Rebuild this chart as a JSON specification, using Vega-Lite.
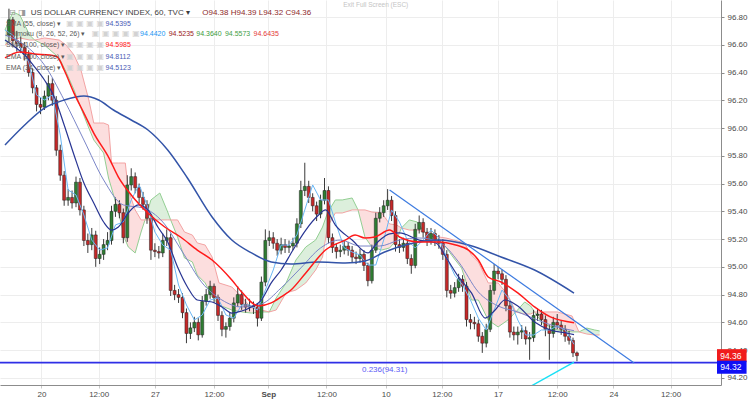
{
  "$schema": "https://vega.github.io/schema/vega-lite/v6.json",
  "width": 721,
  "height": 385,
  "autosize": {"type": "none"},
  "padding": {"left": 0, "top": 0, "right": 31, "bottom": 16},
  "background": "#ffffff",
  "config": {
    "view": {"stroke": null},
    "axis": {"labelFont": "Liberation Sans", "labelOverlap": false},
    "text": {"font": "Liberation Sans"}
  },
  "datasets": {
    "candles": [
      {"t":4,"o":96.67,"h":96.86,"l":96.62,"c":96.78},
      {"t":8,"o":96.78,"h":96.80,"l":96.58,"c":96.63},
      {"t":12,"o":96.63,"h":96.70,"l":96.55,"c":96.61},
      {"t":16,"o":96.61,"h":96.66,"l":96.54,"c":96.58},
      {"t":20,"o":96.58,"h":96.62,"l":96.49,"c":96.53},
      {"t":24,"o":96.53,"h":96.56,"l":96.37,"c":96.40},
      {"t":28,"o":96.40,"h":96.43,"l":96.25,"c":96.29},
      {"t":32,"o":96.29,"h":96.31,"l":96.12,"c":96.17},
      {"t":36,"o":96.17,"h":96.22,"l":96.10,"c":96.15},
      {"t":40,"o":96.15,"h":96.27,"l":96.13,"c":96.23},
      {"t":44,"o":96.23,"h":96.38,"l":96.20,"c":96.32},
      {"t":48,"o":96.32,"h":96.36,"l":96.16,"c":96.20},
      {"t":52,"o":96.20,"h":96.23,"l":95.80,"c":95.84},
      {"t":56,"o":95.84,"h":95.88,"l":95.62,"c":95.66},
      {"t":60,"o":95.66,"h":95.69,"l":95.44,"c":95.48},
      {"t":64,"o":95.48,"h":95.56,"l":95.44,"c":95.50},
      {"t":68,"o":95.50,"h":95.55,"l":95.42,"c":95.46},
      {"t":72,"o":95.46,"h":95.65,"l":95.43,"c":95.61},
      {"t":76,"o":95.61,"h":95.64,"l":95.37,"c":95.41},
      {"t":80,"o":95.41,"h":95.44,"l":95.15,"c":95.19},
      {"t":84,"o":95.19,"h":95.24,"l":95.10,"c":95.16},
      {"t":88,"o":95.16,"h":95.28,"l":95.12,"c":95.23},
      {"t":92,"o":95.23,"h":95.26,"l":95.00,"c":95.06},
      {"t":96,"o":95.06,"h":95.14,"l":95.02,"c":95.09},
      {"t":100,"o":95.09,"h":95.20,"l":95.05,"c":95.16},
      {"t":104,"o":95.16,"h":95.25,"l":95.12,"c":95.19},
      {"t":108,"o":95.19,"h":95.44,"l":95.16,"c":95.40},
      {"t":112,"o":95.40,"h":95.50,"l":95.36,"c":95.45},
      {"t":116,"o":95.45,"h":95.48,"l":95.35,"c":95.39},
      {"t":120,"o":95.39,"h":95.42,"l":95.17,"c":95.21},
      {"t":124,"o":95.21,"h":95.66,"l":95.18,"c":95.59},
      {"t":128,"o":95.59,"h":95.71,"l":95.55,"c":95.65},
      {"t":132,"o":95.65,"h":95.68,"l":95.53,"c":95.57},
      {"t":136,"o":95.57,"h":95.60,"l":95.46,"c":95.50},
      {"t":140,"o":95.50,"h":95.54,"l":95.41,"c":95.45},
      {"t":144,"o":95.45,"h":95.48,"l":95.31,"c":95.35},
      {"t":148,"o":95.35,"h":95.38,"l":95.05,"c":95.12},
      {"t":152,"o":95.12,"h":95.17,"l":95.07,"c":95.11},
      {"t":156,"o":95.11,"h":95.15,"l":95.06,"c":95.10},
      {"t":160,"o":95.10,"h":95.24,"l":95.07,"c":95.19},
      {"t":164,"o":95.19,"h":95.27,"l":95.15,"c":95.21},
      {"t":168,"o":95.21,"h":95.24,"l":94.79,"c":94.83},
      {"t":172,"o":94.83,"h":94.87,"l":94.76,"c":94.80},
      {"t":176,"o":94.80,"h":94.84,"l":94.74,"c":94.78},
      {"t":180,"o":94.78,"h":94.81,"l":94.63,"c":94.67},
      {"t":184,"o":94.67,"h":94.70,"l":94.45,"c":94.52},
      {"t":188,"o":94.52,"h":94.60,"l":94.48,"c":94.56},
      {"t":192,"o":94.56,"h":94.64,"l":94.53,"c":94.60},
      {"t":196,"o":94.60,"h":94.63,"l":94.47,"c":94.51},
      {"t":200,"o":94.51,"h":94.79,"l":94.49,"c":94.75},
      {"t":204,"o":94.75,"h":94.84,"l":94.72,"c":94.80},
      {"t":208,"o":94.80,"h":94.90,"l":94.77,"c":94.86},
      {"t":212,"o":94.86,"h":94.88,"l":94.74,"c":94.78},
      {"t":216,"o":94.78,"h":94.80,"l":94.61,"c":94.65},
      {"t":220,"o":94.65,"h":94.68,"l":94.50,"c":94.55},
      {"t":224,"o":94.55,"h":94.60,"l":94.49,"c":94.57},
      {"t":228,"o":94.57,"h":94.67,"l":94.54,"c":94.63},
      {"t":232,"o":94.63,"h":94.78,"l":94.60,"c":94.74},
      {"t":236,"o":94.74,"h":94.86,"l":94.71,"c":94.80},
      {"t":240,"o":94.80,"h":94.83,"l":94.69,"c":94.73},
      {"t":244,"o":94.73,"h":94.77,"l":94.67,"c":94.71},
      {"t":248,"o":94.71,"h":94.77,"l":94.68,"c":94.72},
      {"t":252,"o":94.72,"h":94.75,"l":94.66,"c":94.71},
      {"t":256,"o":94.71,"h":94.74,"l":94.57,"c":94.63},
      {"t":260,"o":94.63,"h":94.93,"l":94.61,"c":94.89},
      {"t":264,"o":94.89,"h":95.27,"l":94.86,"c":95.19},
      {"t":268,"o":95.19,"h":95.26,"l":95.15,"c":95.21},
      {"t":272,"o":95.21,"h":95.25,"l":95.13,"c":95.17},
      {"t":276,"o":95.17,"h":95.20,"l":95.08,"c":95.12},
      {"t":280,"o":95.12,"h":95.21,"l":95.09,"c":95.16},
      {"t":284,"o":95.16,"h":95.20,"l":95.10,"c":95.14},
      {"t":288,"o":95.14,"h":95.19,"l":95.10,"c":95.15},
      {"t":292,"o":95.15,"h":95.21,"l":95.12,"c":95.17},
      {"t":296,"o":95.17,"h":95.35,"l":95.14,"c":95.31},
      {"t":300,"o":95.31,"h":95.62,"l":95.28,"c":95.55},
      {"t":304,"o":95.55,"h":95.75,"l":95.51,"c":95.58},
      {"t":308,"o":95.58,"h":95.62,"l":95.46,"c":95.50},
      {"t":312,"o":95.50,"h":95.53,"l":95.40,"c":95.44},
      {"t":316,"o":95.44,"h":95.47,"l":95.33,"c":95.38},
      {"t":320,"o":95.38,"h":95.52,"l":95.35,"c":95.48},
      {"t":324,"o":95.48,"h":95.64,"l":95.45,"c":95.55},
      {"t":328,"o":95.55,"h":95.58,"l":95.17,"c":95.21},
      {"t":332,"o":95.21,"h":95.24,"l":95.10,"c":95.14},
      {"t":336,"o":95.14,"h":95.17,"l":95.06,"c":95.11},
      {"t":340,"o":95.11,"h":95.16,"l":95.07,"c":95.12},
      {"t":344,"o":95.12,"h":95.19,"l":95.09,"c":95.15},
      {"t":348,"o":95.15,"h":95.18,"l":95.08,"c":95.12},
      {"t":352,"o":95.12,"h":95.15,"l":95.03,"c":95.07},
      {"t":356,"o":95.07,"h":95.11,"l":95.02,"c":95.06},
      {"t":360,"o":95.06,"h":95.13,"l":95.03,"c":95.09},
      {"t":364,"o":95.09,"h":95.12,"l":94.97,"c":95.01},
      {"t":368,"o":95.01,"h":95.03,"l":94.86,"c":94.90},
      {"t":372,"o":94.90,"h":95.16,"l":94.88,"c":95.12},
      {"t":376,"o":95.12,"h":95.39,"l":95.10,"c":95.35},
      {"t":380,"o":95.35,"h":95.43,"l":95.32,"c":95.39},
      {"t":384,"o":95.39,"h":95.48,"l":95.36,"c":95.44},
      {"t":388,"o":95.44,"h":95.56,"l":95.41,"c":95.48},
      {"t":392,"o":95.48,"h":95.51,"l":95.33,"c":95.37},
      {"t":396,"o":95.37,"h":95.40,"l":95.11,"c":95.16},
      {"t":400,"o":95.16,"h":95.20,"l":95.10,"c":95.14},
      {"t":404,"o":95.14,"h":95.21,"l":95.11,"c":95.17},
      {"t":408,"o":95.17,"h":95.20,"l":95.02,"c":95.06},
      {"t":412,"o":95.06,"h":95.09,"l":94.95,"c":95.01},
      {"t":416,"o":95.01,"h":95.31,"l":94.99,"c":95.27},
      {"t":420,"o":95.27,"h":95.37,"l":95.24,"c":95.32},
      {"t":424,"o":95.32,"h":95.35,"l":95.21,"c":95.25},
      {"t":428,"o":95.25,"h":95.28,"l":95.15,"c":95.19},
      {"t":432,"o":95.19,"h":95.28,"l":95.16,"c":95.24},
      {"t":436,"o":95.24,"h":95.27,"l":95.15,"c":95.19},
      {"t":440,"o":95.19,"h":95.23,"l":95.13,"c":95.17},
      {"t":444,"o":95.17,"h":95.20,"l":95.05,"c":95.09},
      {"t":448,"o":95.09,"h":95.12,"l":94.78,"c":94.83},
      {"t":452,"o":94.83,"h":94.87,"l":94.77,"c":94.81},
      {"t":456,"o":94.81,"h":94.89,"l":94.78,"c":94.85},
      {"t":460,"o":94.85,"h":94.95,"l":94.82,"c":94.91},
      {"t":464,"o":94.91,"h":94.94,"l":94.82,"c":94.86},
      {"t":468,"o":94.86,"h":94.89,"l":94.57,"c":94.62},
      {"t":472,"o":94.62,"h":94.66,"l":94.55,"c":94.60},
      {"t":476,"o":94.60,"h":94.64,"l":94.55,"c":94.59},
      {"t":480,"o":94.59,"h":94.62,"l":94.46,"c":94.50},
      {"t":484,"o":94.50,"h":94.53,"l":94.38,"c":94.45},
      {"t":488,"o":94.45,"h":94.59,"l":94.42,"c":94.55},
      {"t":492,"o":94.55,"h":94.87,"l":94.53,"c":94.83},
      {"t":496,"o":94.83,"h":95.02,"l":94.80,"c":94.97},
      {"t":500,"o":94.97,"h":95.00,"l":94.91,"c":94.95},
      {"t":504,"o":94.95,"h":94.98,"l":94.87,"c":94.91},
      {"t":508,"o":94.91,"h":94.94,"l":94.68,"c":94.72},
      {"t":512,"o":94.72,"h":94.75,"l":94.49,"c":94.53},
      {"t":516,"o":94.53,"h":94.57,"l":94.47,"c":94.51},
      {"t":520,"o":94.51,"h":94.57,"l":94.44,"c":94.53},
      {"t":524,"o":94.53,"h":94.58,"l":94.48,"c":94.54},
      {"t":528,"o":94.54,"h":94.57,"l":94.44,"c":94.48},
      {"t":532,"o":94.48,"h":94.53,"l":94.33,"c":94.49},
      {"t":536,"o":94.49,"h":94.69,"l":94.46,"c":94.65},
      {"t":540,"o":94.65,"h":94.70,"l":94.61,"c":94.66},
      {"t":544,"o":94.66,"h":94.69,"l":94.58,"c":94.62},
      {"t":548,"o":94.62,"h":94.65,"l":94.50,"c":94.55},
      {"t":552,"o":94.55,"h":94.58,"l":94.33,"c":94.52},
      {"t":556,"o":94.52,"h":94.64,"l":94.49,"c":94.60},
      {"t":560,"o":94.60,"h":94.66,"l":94.55,"c":94.58},
      {"t":564,"o":94.58,"h":94.61,"l":94.51,"c":94.55},
      {"t":568,"o":94.55,"h":94.58,"l":94.46,"c":94.50},
      {"t":572,"o":94.50,"h":94.54,"l":94.44,"c":94.47},
      {"t":576,"o":94.47,"h":94.49,"l":94.35,"c":94.38},
      {"t":580,"o":94.38,"h":94.39,"l":94.32,"c":94.36}
    ],
    "ind": [
      {"s":"ema200","t":0,"p":95.878},{"s":"ema200","t":20,"p":96.022},{"s":"ema200","t":40,"p":96.144},{"s":"ema200","t":60,"p":96.202},{"s":"ema200","t":80,"p":96.231},{"s":"ema200","t":95,"p":96.202},{"s":"ema200","t":110,"p":96.130},{"s":"ema200","t":128,"p":96.058},{"s":"ema200","t":145,"p":95.986},{"s":"ema200","t":165,"p":95.842},{"s":"ema200","t":185,"p":95.640},{"s":"ema200","t":210,"p":95.359},{"s":"ema200","t":230,"p":95.193},{"s":"ema200","t":250,"p":95.100},{"s":"ema200","t":270,"p":95.035},{"s":"ema200","t":290,"p":95.020},{"s":"ema200","t":318,"p":95.035},{"s":"ema200","t":345,"p":95.028},{"s":"ema200","t":365,"p":95.042},{"s":"ema200","t":385,"p":95.107},{"s":"ema200","t":410,"p":95.165},{"s":"ema200","t":440,"p":95.193},{"s":"ema200","t":470,"p":95.157},{"s":"ema200","t":503,"p":95.071},{"s":"ema200","t":537,"p":94.977},{"s":"ema200","t":577,"p":94.811},
      {"s":"sma100","t":0,"p":96.505},{"s":"sma100","t":15,"p":96.548},{"s":"sma100","t":30,"p":96.533},{"s":"sma100","t":45,"p":96.526},{"s":"sma100","t":53,"p":96.512},{"s":"sma100","t":60,"p":96.418},{"s":"sma100","t":70,"p":96.252},{"s":"sma100","t":80,"p":96.108},{"s":"sma100","t":90,"p":95.964},{"s":"sma100","t":105,"p":95.791},{"s":"sma100","t":115,"p":95.647},{"s":"sma100","t":128,"p":95.518},{"s":"sma100","t":145,"p":95.388},{"s":"sma100","t":162,"p":95.287},{"s":"sma100","t":178,"p":95.215},{"s":"sma100","t":195,"p":95.121},{"s":"sma100","t":210,"p":95.049},{"s":"sma100","t":230,"p":94.905},{"s":"sma100","t":240,"p":94.819},{"s":"sma100","t":257,"p":94.718},{"s":"sma100","t":270,"p":94.740},{"s":"sma100","t":280,"p":94.783},{"s":"sma100","t":290,"p":94.833},{"s":"sma100","t":305,"p":94.956},{"s":"sma100","t":325,"p":95.121},{"s":"sma100","t":345,"p":95.193},{"s":"sma100","t":355,"p":95.229},{"s":"sma100","t":365,"p":95.208},{"s":"sma100","t":375,"p":95.215},{"s":"sma100","t":390,"p":95.265},{"s":"sma100","t":400,"p":95.215},{"s":"sma100","t":420,"p":95.179},{"s":"sma100","t":440,"p":95.179},{"s":"sma100","t":457,"p":95.157},{"s":"sma100","t":470,"p":95.121},{"s":"sma100","t":480,"p":95.049},{"s":"sma100","t":490,"p":94.927},{"s":"sma100","t":503,"p":94.891},{"s":"sma100","t":520,"p":94.812},{"s":"sma100","t":537,"p":94.711},{"s":"sma100","t":553,"p":94.639},{"s":"sma100","t":577,"p":94.598},
      {"s":"ema34","t":0,"p":96.634},{"s":"ema34","t":10,"p":96.584},{"s":"ema34","t":20,"p":96.526},{"s":"ema34","t":30,"p":96.440},{"s":"ema34","t":40,"p":96.346},{"s":"ema34","t":50,"p":96.224},{"s":"ema34","t":60,"p":96.022},{"s":"ema34","t":70,"p":95.806},{"s":"ema34","t":80,"p":95.604},{"s":"ema34","t":90,"p":95.460},{"s":"ema34","t":100,"p":95.323},{"s":"ema34","t":108,"p":95.265},{"s":"ema34","t":115,"p":95.287},{"s":"ema34","t":125,"p":95.388},{"s":"ema34","t":135,"p":95.446},{"s":"ema34","t":145,"p":95.410},{"s":"ema34","t":155,"p":95.287},{"s":"ema34","t":165,"p":95.179},{"s":"ema34","t":175,"p":94.999},{"s":"ema34","t":185,"p":94.855},{"s":"ema34","t":195,"p":94.761},{"s":"ema34","t":210,"p":94.747},{"s":"ema34","t":220,"p":94.711},{"s":"ema34","t":230,"p":94.667},{"s":"ema34","t":240,"p":94.682},{"s":"ema34","t":250,"p":94.711},{"s":"ema34","t":260,"p":94.761},{"s":"ema34","t":270,"p":94.884},{"s":"ema34","t":280,"p":94.977},{"s":"ema34","t":292,"p":95.121},{"s":"ema34","t":305,"p":95.265},{"s":"ema34","t":318,"p":95.373},{"s":"ema34","t":325,"p":95.410},{"s":"ema34","t":335,"p":95.301},{"s":"ema34","t":352,"p":95.193},{"s":"ema34","t":368,"p":95.100},{"s":"ema34","t":378,"p":95.179},{"s":"ema34","t":390,"p":95.237},{"s":"ema34","t":400,"p":95.244},{"s":"ema34","t":420,"p":95.193},{"s":"ema34","t":437,"p":95.172},{"s":"ema34","t":447,"p":95.071},{"s":"ema34","t":460,"p":94.927},{"s":"ema34","t":473,"p":94.812},{"s":"ema34","t":487,"p":94.631},{"s":"ema34","t":497,"p":94.689},{"s":"ema34","t":507,"p":94.761},{"s":"ema34","t":520,"p":94.718},{"s":"ema34","t":537,"p":94.603},{"s":"ema34","t":553,"p":94.545},{"s":"ema34","t":570,"p":94.523},{"s":"ema34","t":577,"p":94.512},
      {"s":"sma55","t":0,"p":96.670},{"s":"sma55","t":20,"p":96.598},{"s":"sma55","t":40,"p":96.454},{"s":"sma55","t":60,"p":96.202},{"s":"sma55","t":80,"p":95.914},{"s":"sma55","t":100,"p":95.626},{"s":"sma55","t":120,"p":95.446},{"s":"sma55","t":140,"p":95.424},{"s":"sma55","t":160,"p":95.323},{"s":"sma55","t":180,"p":95.107},{"s":"sma55","t":200,"p":94.884},{"s":"sma55","t":220,"p":94.761},{"s":"sma55","t":240,"p":94.711},{"s":"sma55","t":260,"p":94.732},{"s":"sma55","t":280,"p":94.848},{"s":"sma55","t":300,"p":94.992},{"s":"sma55","t":320,"p":95.136},{"s":"sma55","t":340,"p":95.193},{"s":"sma55","t":360,"p":95.150},{"s":"sma55","t":380,"p":95.150},{"s":"sma55","t":400,"p":95.193},{"s":"sma55","t":420,"p":95.208},{"s":"sma55","t":440,"p":95.179},{"s":"sma55","t":460,"p":95.035},{"s":"sma55","t":480,"p":94.819},{"s":"sma55","t":500,"p":94.718},{"s":"sma55","t":520,"p":94.675},{"s":"sma55","t":540,"p":94.617},{"s":"sma55","t":560,"p":94.567},{"s":"sma55","t":577,"p":94.540},
      {"s":"tenkan","t":0,"p":96.706},{"s":"tenkan","t":8,"p":96.670},{"s":"tenkan","t":16,"p":96.577},{"s":"tenkan","t":24,"p":96.476},{"s":"tenkan","t":32,"p":96.238},{"s":"tenkan","t":40,"p":96.202},{"s":"tenkan","t":48,"p":96.238},{"s":"tenkan","t":56,"p":95.950},{"s":"tenkan","t":64,"p":95.554},{"s":"tenkan","t":72,"p":95.518},{"s":"tenkan","t":80,"p":95.374},{"s":"tenkan","t":88,"p":95.193},{"s":"tenkan","t":96,"p":95.121},{"s":"tenkan","t":104,"p":95.136},{"s":"tenkan","t":112,"p":95.302},{"s":"tenkan","t":120,"p":95.323},{"s":"tenkan","t":128,"p":95.482},{"s":"tenkan","t":136,"p":95.590},{"s":"tenkan","t":144,"p":95.446},{"s":"tenkan","t":152,"p":95.251},{"s":"tenkan","t":160,"p":95.157},{"s":"tenkan","t":168,"p":95.121},{"s":"tenkan","t":176,"p":94.869},{"s":"tenkan","t":184,"p":94.725},{"s":"tenkan","t":192,"p":94.617},{"s":"tenkan","t":200,"p":94.653},{"s":"tenkan","t":208,"p":94.761},{"s":"tenkan","t":216,"p":94.776},{"s":"tenkan","t":224,"p":94.653},{"s":"tenkan","t":232,"p":94.631},{"s":"tenkan","t":240,"p":94.725},{"s":"tenkan","t":248,"p":94.725},{"s":"tenkan","t":256,"p":94.689},{"s":"tenkan","t":264,"p":94.833},{"s":"tenkan","t":272,"p":94.977},{"s":"tenkan","t":280,"p":95.157},{"s":"tenkan","t":288,"p":95.157},{"s":"tenkan","t":296,"p":95.229},{"s":"tenkan","t":304,"p":95.410},{"s":"tenkan","t":312,"p":95.590},{"s":"tenkan","t":320,"p":95.482},{"s":"tenkan","t":328,"p":95.482},{"s":"tenkan","t":336,"p":95.302},{"s":"tenkan","t":344,"p":95.136},{"s":"tenkan","t":352,"p":95.107},{"s":"tenkan","t":360,"p":95.085},{"s":"tenkan","t":368,"p":95.013},{"s":"tenkan","t":376,"p":95.013},{"s":"tenkan","t":384,"p":95.193},{"s":"tenkan","t":392,"p":95.410},{"s":"tenkan","t":400,"p":95.323},{"s":"tenkan","t":408,"p":95.193},{"s":"tenkan","t":416,"p":95.136},{"s":"tenkan","t":424,"p":95.193},{"s":"tenkan","t":432,"p":95.265},{"s":"tenkan","t":440,"p":95.208},{"s":"tenkan","t":448,"p":95.064},{"s":"tenkan","t":456,"p":94.941},{"s":"tenkan","t":464,"p":94.869},{"s":"tenkan","t":472,"p":94.761},{"s":"tenkan","t":480,"p":94.631},{"s":"tenkan","t":488,"p":94.545},{"s":"tenkan","t":496,"p":94.689},{"s":"tenkan","t":504,"p":94.833},{"s":"tenkan","t":512,"p":94.761},{"s":"tenkan","t":520,"p":94.617},{"s":"tenkan","t":528,"p":94.509},{"s":"tenkan","t":536,"p":94.509},{"s":"tenkan","t":544,"p":94.545},{"s":"tenkan","t":552,"p":94.545},{"s":"tenkan","t":560,"p":94.574},{"s":"tenkan","t":568,"p":94.545},{"s":"tenkan","t":577,"p":94.442}
    ],
    "cloud": [
      {"g":1,"k":"bull","t":0,"a":96.706,"b":96.598},{"g":1,"k":"bull","t":8,"a":96.836,"b":96.634},{"g":1,"k":"bull","t":15,"a":96.814,"b":96.649},{"g":1,"k":"bull","t":25,"a":96.670,"b":96.634},{"g":1,"k":"bull","t":30,"a":96.634,"b":96.634},
      {"g":2,"k":"bear","t":30,"a":96.634,"b":96.634},{"g":2,"k":"bear","t":40,"a":96.598,"b":96.649},{"g":2,"k":"bear","t":55,"a":96.505,"b":96.634},{"g":2,"k":"bear","t":62,"a":96.404,"b":96.598},{"g":2,"k":"bear","t":70,"a":96.274,"b":96.526},{"g":2,"k":"bear","t":77,"a":96.144,"b":96.418},{"g":2,"k":"bear","t":85,"a":96.000,"b":96.202},{"g":2,"k":"bear","t":90,"a":95.914,"b":96.036},{"g":2,"k":"bear","t":100,"a":95.820,"b":96.036},{"g":2,"k":"bear","t":105,"a":95.640,"b":96.022},{"g":2,"k":"bear","t":108,"a":95.568,"b":95.748},{"g":2,"k":"bear","t":115,"a":95.395,"b":95.748},{"g":2,"k":"bear","t":122,"a":95.193,"b":95.748},{"g":2,"k":"bear","t":125,"a":95.143,"b":95.554},{"g":2,"k":"bear","t":132,"a":95.100,"b":95.410},{"g":2,"k":"bear","t":138,"a":95.251,"b":95.338},{"g":2,"k":"bear","t":142,"a":95.338,"b":95.338},
      {"g":3,"k":"bull","t":142,"a":95.338,"b":95.338},{"g":3,"k":"bull","t":148,"a":95.482,"b":95.338},{"g":3,"k":"bull","t":157,"a":95.532,"b":95.338},{"g":3,"k":"bull","t":165,"a":95.395,"b":95.338},{"g":3,"k":"bull","t":168,"a":95.338,"b":95.338},
      {"g":4,"k":"bear","t":168,"a":95.338,"b":95.338},{"g":4,"k":"bear","t":175,"a":95.215,"b":95.338},{"g":4,"k":"bear","t":182,"a":95.064,"b":95.251},{"g":4,"k":"bear","t":190,"a":95.035,"b":95.229},{"g":4,"k":"bear","t":195,"a":94.941,"b":95.172},{"g":4,"k":"bear","t":203,"a":94.884,"b":95.157},{"g":4,"k":"bear","t":210,"a":94.783,"b":95.071},{"g":4,"k":"bear","t":217,"a":94.725,"b":94.884},{"g":4,"k":"bear","t":230,"a":94.689,"b":94.855},{"g":4,"k":"bear","t":240,"a":94.675,"b":94.783},{"g":4,"k":"bear","t":250,"a":94.667,"b":94.704},{"g":4,"k":"bear","t":260,"a":94.675,"b":94.689},{"g":4,"k":"bear","t":268,"a":94.675,"b":94.675},
      {"g":5,"k":"bull","t":268,"a":94.675,"b":94.675},{"g":5,"k":"bull","t":275,"a":94.776,"b":94.689},{"g":5,"k":"bull","t":285,"a":94.884,"b":94.812},{"g":5,"k":"bull","t":295,"a":95.049,"b":94.833},{"g":5,"k":"bull","t":305,"a":95.143,"b":94.884},{"g":5,"k":"bull","t":315,"a":95.193,"b":94.977},{"g":5,"k":"bull","t":322,"a":95.287,"b":95.071},{"g":5,"k":"bull","t":327,"a":95.388,"b":95.287},{"g":5,"k":"bull","t":335,"a":95.482,"b":95.388},{"g":5,"k":"bull","t":342,"a":95.482,"b":95.388},{"g":5,"k":"bull","t":352,"a":95.496,"b":95.410},{"g":5,"k":"bull","t":358,"a":95.410,"b":95.410},
      {"g":6,"k":"bear","t":358,"a":95.410,"b":95.410},{"g":6,"k":"bear","t":365,"a":95.215,"b":95.410},{"g":6,"k":"bear","t":372,"a":95.143,"b":95.395},{"g":6,"k":"bear","t":382,"a":95.121,"b":95.388},{"g":6,"k":"bear","t":390,"a":95.136,"b":95.309},{"g":6,"k":"bear","t":397,"a":95.193,"b":95.302},{"g":6,"k":"bear","t":402,"a":95.280,"b":95.280},
      {"g":7,"k":"bull","t":402,"a":95.280,"b":95.280},{"g":7,"k":"bull","t":410,"a":95.338,"b":95.265},{"g":7,"k":"bull","t":418,"a":95.323,"b":95.265},{"g":7,"k":"bull","t":425,"a":95.251,"b":95.251},
      {"g":8,"k":"bear","t":425,"a":95.251,"b":95.251},{"g":8,"k":"bear","t":440,"a":95.193,"b":95.215},{"g":8,"k":"bear","t":447,"a":95.143,"b":95.208},{"g":8,"k":"bear","t":455,"a":95.064,"b":95.193},{"g":8,"k":"bear","t":463,"a":94.992,"b":95.179},{"g":8,"k":"bear","t":467,"a":94.905,"b":95.157},{"g":8,"k":"bear","t":473,"a":94.761,"b":95.085},{"g":8,"k":"bear","t":480,"a":94.761,"b":95.035},{"g":8,"k":"bear","t":490,"a":94.617,"b":94.884},{"g":8,"k":"bear","t":500,"a":94.567,"b":94.884},{"g":8,"k":"bear","t":510,"a":94.617,"b":94.797},{"g":8,"k":"bear","t":518,"a":94.675,"b":94.675},
      {"g":9,"k":"bull","t":518,"a":94.675,"b":94.675},{"g":9,"k":"bull","t":527,"a":94.747,"b":94.660},{"g":9,"k":"bull","t":533,"a":94.718,"b":94.660},{"g":9,"k":"bull","t":537,"a":94.675,"b":94.675},
      {"g":10,"k":"bear","t":537,"a":94.675,"b":94.675},{"g":10,"k":"bear","t":545,"a":94.595,"b":94.675},{"g":10,"k":"bear","t":560,"a":94.545,"b":94.675},{"g":10,"k":"bear","t":575,"a":94.531,"b":94.646},{"g":10,"k":"bear","t":582,"a":94.531,"b":94.531},
      {"g":11,"k":"bull","t":582,"a":94.531,"b":94.531},{"g":11,"k":"bull","t":590,"a":94.559,"b":94.516},{"g":11,"k":"bull","t":598,"a":94.545,"b":94.509},{"g":11,"k":"bull","t":603,"a":94.538,"b":94.509}
    ],
    "trend": [{"t":390,"p":95.554},{"t":638,"p":94.307}],
    "cyan": [{"t":530,"p":94.127},{"t":577,"p":94.314}]
  },
  "layer": [
    {
      "data": {"name": "cloud"},
      "mark": {"type": "area", "opacity": 1},
      "encoding": {
        "x": {"field": "t", "type": "quantitative", "title": null,
          "scale": {"domain": [0, 721], "nice": false, "zero": false},
          "axis": {"orient": "bottom", "values": [37, 95, 152, 212, 267, 326, 386, 443, 500, 560, 617, 675], "tickCount": 30, "labelExpr": "['20','12:00','27','12:00','Sep','12:00','10','12:00','17','12:00','24','12:00'][indexof([37,95,152,212,267,326,386,443,500,560,617,675], datum.value)]", "grid": true, "gridColor": "#ededed", "domainColor": "#8c8c8c", "tickColor": "#c8c8c8", "tickSize": 3, "labelFontSize": 8, "labelColor": "#4a4a4a", "labelPadding": 2, "labelFontWeight": {"condition": {"test": "datum.value == 267", "value": "bold"}, "value": "normal"}, "labelFlush": false, "labelOverlap": false, "title": null}},
        "y": {"field": "a", "type": "quantitative", "title": null,
          "scale": {"domain": [94.1487, 96.9225], "nice": false, "zero": false},
          "axis": {"orient": "right", "values": [94.2, 94.4, 94.6, 94.8, 95, 95.2, 95.4, 95.6, 95.8, 96, 96.2, 96.4, 96.6, 96.8], "tickCount": 30, "format": ".2f", "grid": true, "gridColor": "#ededed", "domainColor": "#8c8c8c", "tickColor": "#8c8c8c", "tickSize": 3, "labelFontSize": 8, "labelColor": "#4a4a4a", "labelPadding": 3, "labelFlush": false, "labelOverlap": false, "title": null}},
        "y2": {"field": "b"},
        "detail": {"field": "g", "type": "nominal"},
        "color": {"field": "k", "type": "nominal", "legend": null,
          "scale": {"domain": ["bear", "bull"], "range": ["#fcdede", "#dcefdc"]}}
      }
    },
    {
      "data": {"name": "cloud"},
      "mark": {"type": "line", "color": "#93cf93", "strokeWidth": 1},
      "encoding": {
        "x": {"field": "t", "type": "quantitative", "title": null, "scale": {"domain": [0, 721], "nice": false, "zero": false}},
        "y": {"field": "a", "type": "quantitative", "title": null, "scale": {"domain": [94.1487, 96.9225], "nice": false, "zero": false}}
      }
    },
    {
      "data": {"name": "cloud"},
      "mark": {"type": "line", "color": "#f3a3a3", "strokeWidth": 1},
      "encoding": {
        "x": {"field": "t", "type": "quantitative", "title": null, "scale": {"domain": [0, 721], "nice": false, "zero": false}},
        "y": {"field": "b", "type": "quantitative", "title": null, "scale": {"domain": [94.1487, 96.9225], "nice": false, "zero": false}}
      }
    },
    {
      "data": {"name": "candles"},
      "mark": {"type": "rule", "color": "#3a3a3a", "strokeWidth": 1},
      "encoding": {
        "x": {"field": "t", "type": "quantitative", "title": null, "scale": {"domain": [0, 721], "nice": false, "zero": false}},
        "y": {"field": "l", "type": "quantitative", "title": null, "scale": {"domain": [94.1487, 96.9225], "nice": false, "zero": false}},
        "y2": {"field": "h"}
      }
    },
    {
      "data": {"name": "candles"},
      "mark": {"type": "bar", "width": 3, "stroke": "#222222", "strokeWidth": 0.5},
      "encoding": {
        "x": {"field": "t", "type": "quantitative", "title": null, "scale": {"domain": [0, 721], "nice": false, "zero": false}},
        "y": {"field": "o", "type": "quantitative", "title": null, "scale": {"domain": [94.1487, 96.9225], "nice": false, "zero": false}},
        "y2": {"field": "c"},
        "color": {"condition": {"test": "datum.c >= datum.o", "value": "#2e7d32"}, "value": "#c62828"}
      }
    },
    {
      "data": {"name": "ind"},
      "transform": [{"filter": "datum.s == 'tenkan'"}],
      "mark": {"type": "line", "color": "#6ab7f5", "strokeWidth": 1},
      "encoding": {
        "x": {"field": "t", "type": "quantitative", "title": null, "scale": {"domain": [0, 721], "nice": false, "zero": false}},
        "y": {"field": "p", "type": "quantitative", "title": null, "scale": {"domain": [94.1487, 96.9225], "nice": false, "zero": false}}
      }
    },
    {
      "data": {"name": "ind"},
      "transform": [{"filter": "datum.s == 'sma55'"}],
      "mark": {"type": "line", "color": "#7b86c8", "strokeWidth": 1, "interpolate": "monotone"},
      "encoding": {
        "x": {"field": "t", "type": "quantitative", "title": null, "scale": {"domain": [0, 721], "nice": false, "zero": false}},
        "y": {"field": "p", "type": "quantitative", "title": null, "scale": {"domain": [94.1487, 96.9225], "nice": false, "zero": false}}
      }
    },
    {
      "data": {"name": "ind"},
      "transform": [{"filter": "datum.s == 'ema34'"}],
      "mark": {"type": "line", "color": "#283593", "strokeWidth": 1.2, "interpolate": "monotone"},
      "encoding": {
        "x": {"field": "t", "type": "quantitative", "title": null, "scale": {"domain": [0, 721], "nice": false, "zero": false}},
        "y": {"field": "p", "type": "quantitative", "title": null, "scale": {"domain": [94.1487, 96.9225], "nice": false, "zero": false}}
      }
    },
    {
      "data": {"name": "ind"},
      "transform": [{"filter": "datum.s == 'ema200'"}],
      "mark": {"type": "line", "color": "#3354a8", "strokeWidth": 1.5, "interpolate": "monotone"},
      "encoding": {
        "x": {"field": "t", "type": "quantitative", "title": null, "scale": {"domain": [0, 721], "nice": false, "zero": false}},
        "y": {"field": "p", "type": "quantitative", "title": null, "scale": {"domain": [94.1487, 96.9225], "nice": false, "zero": false}}
      }
    },
    {
      "data": {"name": "ind"},
      "transform": [{"filter": "datum.s == 'sma100'"}],
      "mark": {"type": "line", "color": "#ff1a1a", "strokeWidth": 1.5, "interpolate": "monotone"},
      "encoding": {
        "x": {"field": "t", "type": "quantitative", "title": null, "scale": {"domain": [0, 721], "nice": false, "zero": false}},
        "y": {"field": "p", "type": "quantitative", "title": null, "scale": {"domain": [94.1487, 96.9225], "nice": false, "zero": false}}
      }
    },
    {
      "data": {"values": [{}]},
      "mark": {"type": "rule", "color": "#2f2fe6", "strokeWidth": 1.6},
      "encoding": {
        "y": {"datum": 94.31, "type": "quantitative", "scale": {"domain": [94.1487, 96.9225], "nice": false, "zero": false}}
      }
    },
    {
      "data": {"name": "trend"},
      "mark": {"type": "line", "color": "#3d7be0", "strokeWidth": 1.2},
      "encoding": {
        "x": {"field": "t", "type": "quantitative", "title": null, "scale": {"domain": [0, 721], "nice": false, "zero": false}},
        "y": {"field": "p", "type": "quantitative", "title": null, "scale": {"domain": [94.1487, 96.9225], "nice": false, "zero": false}}
      }
    },
    {
      "data": {"name": "cyan"},
      "mark": {"type": "line", "color": "#19e0f5", "strokeWidth": 1.4, "clip": true},
      "encoding": {
        "x": {"field": "t", "type": "quantitative", "title": null, "scale": {"domain": [0, 721], "nice": false, "zero": false}},
        "y": {"field": "p", "type": "quantitative", "title": null, "scale": {"domain": [94.1487, 96.9225], "nice": false, "zero": false}}
      }
    },
    {
      "data": {"values": [{}]},
      "mark": {"type": "text", "text": "0.236(94.31)", "color": "#5a5af5", "fontSize": 8, "align": "center", "baseline": "middle"},
      "encoding": {"x": {"datum": 385, "type": "quantitative"}, "y": {"datum": 94.257, "type": "quantitative"}}
    },
    {
      "data": {"values": [{}]},
      "mark": {"type": "rect", "color": "#f01c1c"},
      "encoding": {
        "x": {"datum": 722, "type": "quantitative"}, "x2": {"datum": 752},
        "y": {"datum": 94.407, "type": "quantitative"}, "y2": {"datum": 94.313}
      }
    },
    {
      "data": {"values": [{}]},
      "mark": {"type": "text", "text": "94.36", "color": "#ffffff", "fontSize": 8.5, "align": "center", "baseline": "middle"},
      "encoding": {"x": {"datum": 736, "type": "quantitative"}, "y": {"datum": 94.36, "type": "quantitative"}}
    },
    {
      "data": {"values": [{}]},
      "mark": {"type": "rect", "color": "#1010f5", "yOffset": 6, "y2Offset": 6},
      "encoding": {
        "x": {"datum": 722, "type": "quantitative"}, "x2": {"datum": 752},
        "y": {"datum": 94.367, "type": "quantitative"}, "y2": {"datum": 94.273}
      }
    },
    {
      "data": {"values": [{}]},
      "mark": {"type": "text", "text": "94.32", "color": "#ffffff", "fontSize": 8.5, "align": "center", "baseline": "middle", "dy": 6},
      "encoding": {"x": {"datum": 736, "type": "quantitative"}, "y": {"datum": 94.32, "type": "quantitative"}}
    },
    {
      "data": {"values": [{}]},
      "mark": {"type": "text", "text": "Exit Full Screen (ESC)", "color": "#c4c4c4", "fontSize": 6.5, "align": "center", "baseline": "middle"},
      "encoding": {"x": {"datum": 376, "type": "quantitative"}, "y": {"datum": 96.886, "type": "quantitative"}}
    },
    {
      "data": {"values": [{}]},
      "mark": {"type": "text", "text": "⊟ ◨", "color": "#9a9a9a", "fontSize": 8, "font": "DejaVu Sans", "align": "left", "baseline": "middle"},
      "encoding": {"x": {"datum": 4, "type": "quantitative"}, "y": {"datum": 96.831, "type": "quantitative"}}
    },
    {
      "data": {"values": [{}]},
      "mark": {"type": "text", "text": "US DOLLAR CURRENCY INDEX, 60, TVC ▾", "color": "#3c3c3c", "fontSize": 8, "align": "left", "baseline": "middle"},
      "encoding": {"x": {"datum": 26, "type": "quantitative"}, "y": {"datum": 96.831, "type": "quantitative"}}
    },
    {
      "data": {"values": [{}]},
      "mark": {"type": "text", "text": "O94.38  H94.39  L94.32  C94.36", "color": "#8e2b2b", "fontSize": 8, "align": "left", "baseline": "middle"},
      "encoding": {"x": {"datum": 200, "type": "quantitative"}, "y": {"datum": 96.831, "type": "quantitative"}}
    },
    {
      "data": {"values": [{}]},
      "mark": {"type": "text", "text": "SMA (55, close) ▾", "color": "#5a5a5a", "fontSize": 7, "align": "left", "baseline": "middle"},
      "encoding": {"x": {"datum": 1, "type": "quantitative"}, "y": {"datum": 96.750, "type": "quantitative"}}
    },
    {
      "data": {"values": [{}]},
      "mark": {"type": "text", "text": "Ichimoku (9, 26, 52, 26) ▾", "color": "#5a5a5a", "fontSize": 7, "align": "left", "baseline": "middle"},
      "encoding": {"x": {"datum": 1, "type": "quantitative"}, "y": {"datum": 96.674, "type": "quantitative"}}
    },
    {
      "data": {"values": [{}]},
      "mark": {"type": "text", "text": "SMA (100, close) ▾", "color": "#5a5a5a", "fontSize": 7, "align": "left", "baseline": "middle"},
      "encoding": {"x": {"datum": 1, "type": "quantitative"}, "y": {"datum": 96.595, "type": "quantitative"}}
    },
    {
      "data": {"values": [{}]},
      "mark": {"type": "text", "text": "EMA (200, close) ▾", "color": "#5a5a5a", "fontSize": 7, "align": "left", "baseline": "middle"},
      "encoding": {"x": {"datum": 1, "type": "quantitative"}, "y": {"datum": 96.514, "type": "quantitative"}}
    },
    {
      "data": {"values": [{}]},
      "mark": {"type": "text", "text": "EMA (34, close) ▾", "color": "#5a5a5a", "fontSize": 7, "align": "left", "baseline": "middle"},
      "encoding": {"x": {"datum": 1, "type": "quantitative"}, "y": {"datum": 96.434, "type": "quantitative"}}
    },
    {
      "data": {"values": [{}]},
      "mark": {"type": "text", "text": "▣ ▣ ▣ ▣", "color": "#d2d2d2", "fontSize": 8, "font": "DejaVu Sans", "align": "left", "baseline": "middle"},
      "encoding": {"x": {"datum": 62, "type": "quantitative"}, "y": {"datum": 96.750, "type": "quantitative"}}
    },
    {
      "data": {"values": [{}]},
      "mark": {"type": "text", "text": "▣ ▣ ▣ ▣ ▣", "color": "#d2d2d2", "fontSize": 8, "font": "DejaVu Sans", "align": "left", "baseline": "middle"},
      "encoding": {"x": {"datum": 88, "type": "quantitative"}, "y": {"datum": 96.674, "type": "quantitative"}}
    },
    {
      "data": {"values": [{}]},
      "mark": {"type": "text", "text": "▣ ▣ ▣ ▣", "color": "#d2d2d2", "fontSize": 8, "font": "DejaVu Sans", "align": "left", "baseline": "middle"},
      "encoding": {"x": {"datum": 62, "type": "quantitative"}, "y": {"datum": 96.595, "type": "quantitative"}}
    },
    {
      "data": {"values": [{}]},
      "mark": {"type": "text", "text": "▣ ▣ ▣ ▣", "color": "#d2d2d2", "fontSize": 8, "font": "DejaVu Sans", "align": "left", "baseline": "middle"},
      "encoding": {"x": {"datum": 62, "type": "quantitative"}, "y": {"datum": 96.514, "type": "quantitative"}}
    },
    {
      "data": {"values": [{}]},
      "mark": {"type": "text", "text": "▣ ▣ ▣ ▣", "color": "#d2d2d2", "fontSize": 8, "font": "DejaVu Sans", "align": "left", "baseline": "middle"},
      "encoding": {"x": {"datum": 62, "type": "quantitative"}, "y": {"datum": 96.434, "type": "quantitative"}}
    },
    {
      "data": {"values": [{}]},
      "mark": {"type": "text", "text": "94.5395", "color": "#4a5bb5", "fontSize": 7, "align": "left", "baseline": "middle"},
      "encoding": {"x": {"datum": 102, "type": "quantitative"}, "y": {"datum": 96.750, "type": "quantitative"}}
    },
    {
      "data": {"values": [{}]},
      "mark": {"type": "text", "text": "94.4420", "color": "#2196f3", "fontSize": 7, "align": "left", "baseline": "middle"},
      "encoding": {"x": {"datum": 137, "type": "quantitative"}, "y": {"datum": 96.674, "type": "quantitative"}}
    },
    {
      "data": {"values": [{}]},
      "mark": {"type": "text", "text": "94.5235", "color": "#9b2222", "fontSize": 7, "align": "left", "baseline": "middle"},
      "encoding": {"x": {"datum": 166, "type": "quantitative"}, "y": {"datum": 96.674, "type": "quantitative"}}
    },
    {
      "data": {"values": [{}]},
      "mark": {"type": "text", "text": "94.3640", "color": "#3a9a3a", "fontSize": 7, "align": "left", "baseline": "middle"},
      "encoding": {"x": {"datum": 194, "type": "quantitative"}, "y": {"datum": 96.674, "type": "quantitative"}}
    },
    {
      "data": {"values": [{}]},
      "mark": {"type": "text", "text": "94.5573", "color": "#43a047", "fontSize": 7, "align": "left", "baseline": "middle"},
      "encoding": {"x": {"datum": 223, "type": "quantitative"}, "y": {"datum": 96.674, "type": "quantitative"}}
    },
    {
      "data": {"values": [{}]},
      "mark": {"type": "text", "text": "94.6435", "color": "#e53935", "fontSize": 7, "align": "left", "baseline": "middle"},
      "encoding": {"x": {"datum": 252, "type": "quantitative"}, "y": {"datum": 96.674, "type": "quantitative"}}
    },
    {
      "data": {"values": [{}]},
      "mark": {"type": "text", "text": "94.5985", "color": "#ff2020", "fontSize": 7, "align": "left", "baseline": "middle"},
      "encoding": {"x": {"datum": 102, "type": "quantitative"}, "y": {"datum": 96.595, "type": "quantitative"}}
    },
    {
      "data": {"values": [{}]},
      "mark": {"type": "text", "text": "94.8112", "color": "#4a5bb5", "fontSize": 7, "align": "left", "baseline": "middle"},
      "encoding": {"x": {"datum": 102, "type": "quantitative"}, "y": {"datum": 96.514, "type": "quantitative"}}
    },
    {
      "data": {"values": [{}]},
      "mark": {"type": "text", "text": "94.5123", "color": "#4a5bb5", "fontSize": 7, "align": "left", "baseline": "middle"},
      "encoding": {"x": {"datum": 102, "type": "quantitative"}, "y": {"datum": 96.434, "type": "quantitative"}}
    }
  ]
}
